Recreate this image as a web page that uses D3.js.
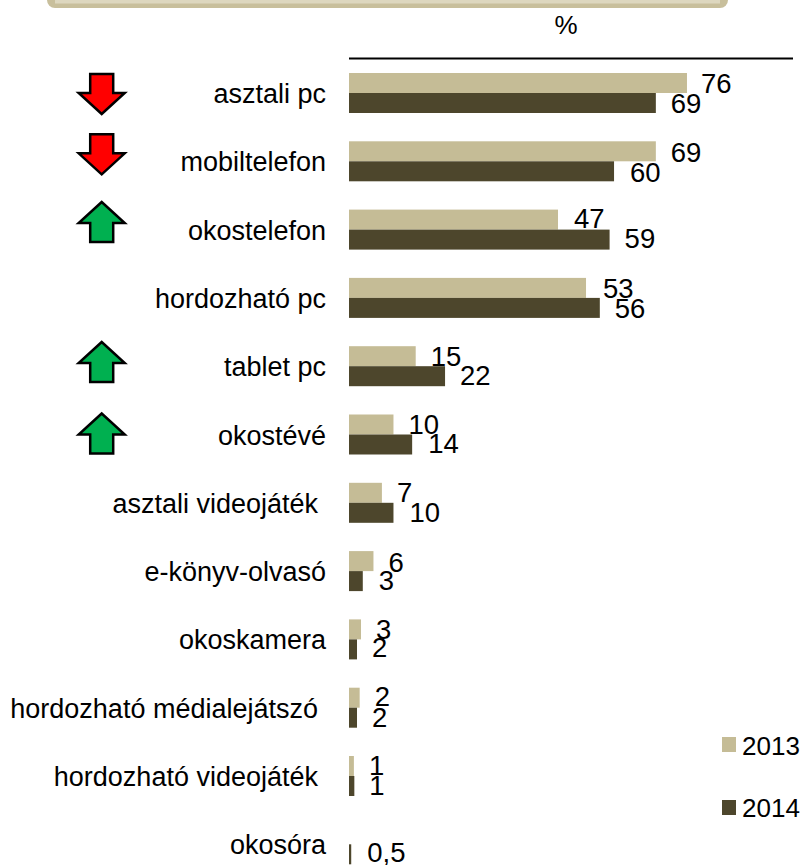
<!DOCTYPE html>
<html><head><meta charset="utf-8">
<script src="https://cdn.jsdelivr.net/npm/d3@7/dist/d3.min.js"></script>
<style>html,body{margin:0;padding:0;background:#fff}svg{display:block}text{font-family:"Liberation Sans",Arial,sans-serif;fill:#000}</style>
</head><body><svg id="c" width="804" height="865"></svg>
<script>
const categories=["asztali pc","mobiltelefon","okostelefon","hordozható pc","tablet pc","okostévé","asztali videojáték","e-könyv-olvasó","okoskamera","hordozható médialejátszó","hordozható videojáték","okosóra"];
const values2013=[76,69,47,53.3,15,10,7.4,5.5,2.7,2.4,1.1,null];
const values2014=[69,59.6,58.6,56.4,21.6,14.2,10,3.1,1.8,1.8,1.2,0.5];
const labels2013=["76","69","47","53","15","10","7","6","3","2","1",""];
const labels2014=["69","60","59","56","22","14","10","3","2","2","1","0,5"];
const arrows=["down","down","up",null,"up","up",null,null,null,null,null,null];
const seriesNames=["2013","2014"];
const colors=["#C5BC96","#4D462C"];
// label placement tweaks (layout only)
const labelRightEdge=[326,326,326,326,326,326,318,326,326,318,318,326];
const dx2013=[14,15,16,17,15,15,15,15,15,15,15,0];
const dy2013=[20,20.4,18,19.6,20,19.8,19,20.7,20,18.5,19,0];
const dx2014=[15,16,15,15,15,16,16,16,15,15,15,16];
const dy2014=[39.7,40.4,38.4,40,38.8,38.8,39,39,38,39,39,37.7];
const arrowDy=[1,-7,-7.6,0,-4.2,-1,0,0,0,0,0,0];

const svg=d3.select("#c");
const x=d3.scaleLinear().domain([0,100]).range([349,793.7]);
const y=d3.scaleBand().domain(categories).range([73,73+68.3*12]);

svg.append("rect").attr("x",47).attr("y",-30).attr("width",681).attr("height",38).attr("rx",8).attr("fill","#C8BF9C");
svg.append("rect").attr("x",55).attr("y",-30).attr("width",665).attr("height",33.5).attr("fill","#DDD7BF");
svg.append("text").attr("x",566).attr("y",34).attr("text-anchor","middle").attr("font-size",26).text("%");
svg.append("line").attr("x1",349).attr("x2",793).attr("y1",58.5).attr("y2",58.5).attr("stroke","#000").attr("stroke-width",2);

const rows=svg.selectAll("g.row").data(categories).join("g").attr("class","row");
rows.each(function(c,i){
  const g=d3.select(this),t=y(c);
  if(values2013[i]!=null){
    g.append("rect").attr("x",x(0)).attr("y",t).attr("width",x(values2013[i])-x(0)).attr("height",20).attr("fill",colors[0]);
    g.append("text").attr("x",x(values2013[i])+dx2013[i]).attr("y",t+dy2013[i]).attr("font-size",27.5).text(labels2013[i]);
  }
  g.append("rect").attr("x",x(0)).attr("y",t+20).attr("width",x(values2014[i])-x(0)).attr("height",20).attr("fill",colors[1]);
  g.append("text").attr("x",x(values2014[i])+dx2014[i]).attr("y",t+dy2014[i]).attr("font-size",27.5).text(labels2014[i]);
  g.append("text").attr("x",labelRightEdge[i]).attr("y",t+30).attr("font-size",27).attr("text-anchor","end").text(c);
  const dir=arrows[i];
  if(dir){
    const cx=101.7,h=40,s=dir==="down"?1:-1,top=t+arrowDy[i],yTail=dir==="down"?top:top+h,yTip=dir==="down"?top+h:top,yShoulder=yTail+s*19;
    const p=d3.path();
    p.moveTo(cx-11.5,yTail);p.lineTo(cx+11.5,yTail);p.lineTo(cx+11.5,yShoulder);p.lineTo(cx+23,yShoulder);
    p.lineTo(cx,yTip);p.lineTo(cx-23,yShoulder);p.lineTo(cx-11.5,yShoulder);p.closePath();
    g.append("path").attr("d",p.toString()).attr("fill",dir==="down"?"#FF0000":"#00B050").attr("stroke","#000").attr("stroke-width",2.5);
  }
});
const leg=svg.selectAll("g.leg").data(seriesNames).join("g").attr("class","leg");
leg.append("rect").attr("x",722).attr("y",(d,i)=>737+i*63).attr("width",14).attr("height",15).attr("fill",(d,i)=>colors[i]);
leg.append("text").attr("x",742).attr("y",(d,i)=>755+i*62).attr("font-size",26).text(d=>d);
</script></body></html>
